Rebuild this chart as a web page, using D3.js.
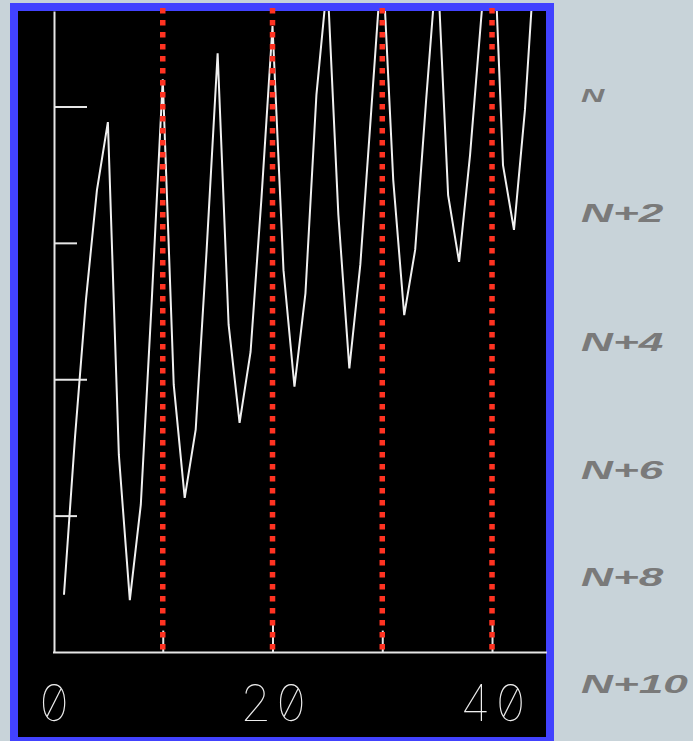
<!DOCTYPE html>
<html><head><meta charset="utf-8">
<script src="https://cdn.jsdelivr.net/npm/d3@7"></script>
<style>html,body{margin:0;padding:0;background:#c8d3d9;} svg{display:block}</style>
</head><body><svg id="chart" width="693" height="741"></svg>
<script>
// ---- data ----
const xValues = [1,2,3,4,5,6,7,8,9,10,11,12,13,14,15,16,17,18,19,20,21,22,23,24,25,26,27,28,29,30,31,32,33,34,35,36,37,38,39,40,41,42,43,44,45];
const yValues = [7.16,4.86,2.84,1.23,0.23,5.11,7.24,5.84,2.84,-0.40,4.08,5.74,4.74,2.10,-0.78,3.20,4.64,3.60,1.33,-1.18,2.40,4.11,2.74,-0.17,-1.85,1.59,3.84,2.32,0.05,-2.24,1.08,3.06,2.10,-0.10,-2.18,1.30,2.28,0.71,-1.27,-3.17,0.86,1.81,0.05,-2.44,-4.49];
const xTickValues = [10,20,30,40];
const xLabelValues = [0,20,40];
const yTickValues = [0,2,4,6];
const gridValues = [10,20,30,40];
const sideLabelValues = [0,2,4,6,8,10];
const sideLabels = ["N","N+2","N+4","N+6","N+8","N+10"];

const svg = d3.select("#chart");
const W = 693, H = 741;

const x = d3.scaleLinear().domain([0,45]).range([53, 546.9]);
const y = d3.scaleLinear().domain([-1.4, 8]).range([11, 652]);
const ySide = d3.scaleLinear().domain([0,2,6,10]).range([95,213,470,684]);

// background + frame
svg.append("rect").attr("width",W).attr("height",H).attr("fill","#c8d3d9");
svg.append("rect").attr("x",10).attr("y",3).attr("width",544).attr("height",H).attr("fill","#4242ff");
svg.append("rect").attr("x",18).attr("y",11).attr("width",528).attr("height",726).attr("fill","#000");

svg.append("defs").append("clipPath").attr("id","clip")
  .append("rect").attr("x",18).attr("y",11).attr("width",528).attr("height",726);

const axisColor = "#e6e6e6";

// y axis (ticks pointing right, alternating long/short)
const gy = svg.append("g").attr("transform",`translate(${x(0)+1},0)`)
  .call(d3.axisRight(y).tickValues(yTickValues).tickSizeOuter(0).tickFormat(""));
gy.select(".domain").attr("stroke",axisColor).attr("stroke-width",2);
gy.selectAll(".tick line").attr("stroke",axisColor).attr("stroke-width",2)
  .attr("x2",(d,i)=> i%2 ? 23 : 33);

// x axis (ticks pointing up, alternating short/long)
const gx = svg.append("g").attr("transform",`translate(0,${y(8)+0.6})`)
  .call(d3.axisTop(x).tickValues(xTickValues).tickSizeOuter(0).tickFormat(""));
gx.select(".domain").attr("stroke",axisColor).attr("stroke-width",2)
  .attr("d",`M${x(0)},0H${x(45)}`);
gx.selectAll(".tick line").attr("stroke",axisColor).attr("stroke-width",2)
  .attr("y2",(d,i)=> i%2 ? -32 : -22);

// x labels
const gl = svg.append("g").attr("transform",`translate(2,${y(8)})`)
  .call(d3.axisBottom(x).tickValues(xLabelValues).tickSize(0).tickFormat(d3.format("d")));
gl.select(".domain").remove();
gl.selectAll("text")
  .attr("y",69).attr("dy",0)
  .attr("fill","#eeeeee")
  .style("font-family","Inter, 'DejaVu Sans Mono', monospace")
  .style("font-weight","100")
  .style("font-size","50px")
  .style("letter-spacing","3px")
  .style("font-feature-settings","\"zero\" 1, \"tnum\" 1");

// data line
const line = d3.line().x((d,i)=>x(xValues[i])).y(d=>y(d));
svg.append("path").attr("clip-path","url(#clip)")
  .datum(yValues)
  .attr("d",line)
  .attr("fill","none")
  .attr("stroke","#f0f0f0")
  .attr("stroke-width",2)
  .attr("stroke-linejoin","miter");

// red dotted grid lines
svg.selectAll("line.grid").data(gridValues).join("line")
  .attr("class","grid")
  .attr("x1",d=>x(d)).attr("x2",d=>x(d))
  .attr("y1",8).attr("y2",650)
  .attr("stroke","#ff3322")
  .attr("stroke-width",5.5)
  .attr("stroke-dasharray","5.5 6.5");

// side labels
svg.selectAll("text.side").data(sideLabelValues).join("text")
  .attr("class","side")
  .attr("transform",d=>`translate(581,${ySide(d)}) scale(1.7,1)`)
  .attr("dy","0.36em")
  .attr("fill","#7a7a7a")
  .style("font-family","'Liberation Sans', Arial, sans-serif")
  .style("font-weight","bold")
  .style("font-style","italic")
  .style("font-size",(d,i)=> i===0 ? "19px" : "26px")
  .text((d,i)=>sideLabels[i]);
</script>
</body></html>
